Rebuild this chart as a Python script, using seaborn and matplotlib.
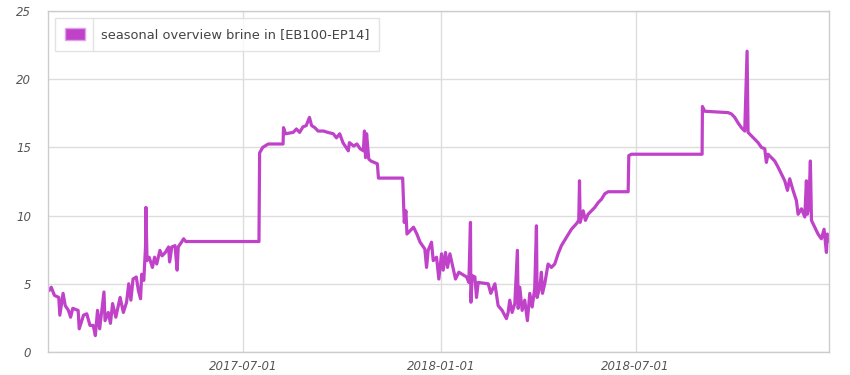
import matplotlib
matplotlib.use("Agg")
import matplotlib.pyplot as plt
import matplotlib.dates as mdates
from matplotlib.patches import Patch
from matplotlib.lines import Line2D
import pandas as pd
import seaborn as sns

# days since 2017-01-01 and brine-in temperatures, in three parts
days_a = [1, 3, 6, 10, 11, 14, 16, 19, 21, 23,
          28, 29, 33, 36, 39, 42, 44, 46, 48, 52,
          53, 56, 58, 60, 63, 67, 70, 73, 75, 77,
          79, 82, 84, 86, 87, 89, 90.6, 91, 92, 94,
          97, 99, 101, 104, 106, 109, 112, 113, 115, 118,
          120, 121, 124, 126, 128]
vals_a = [4.5, 4.75, 4.15, 4.0, 2.7, 4.3, 3.4, 3.05, 2.55, 3.2,
          3.05, 1.7, 2.7, 2.8, 1.95, 1.95, 1.2, 3.05, 1.7, 4.4,
          2.3, 2.9, 2.1, 3.55, 2.55, 4.0, 2.9, 3.65, 5.0, 3.8,
          5.35, 5.5, 4.5, 3.9, 5.7, 5.25, 7.7, 10.6, 6.7, 6.95,
          6.2, 6.95, 6.45, 7.45, 7.05, 7.3, 7.7, 6.6, 7.7, 7.8,
          6.0, 7.7, 8.05, 8.3, 8.1]

days_b = [196, 196.6, 199.5, 204.6, 218.4, 218.8, 220.7, 227.8, 230.8, 233.8,
          236.8, 239.9, 242.9, 244.9, 247.9, 250.9, 256, 260, 265, 268,
          271, 274, 279, 280, 284, 287, 290, 293, 294, 295,
          296, 298, 300, 303, 306, 307, 329.5, 330.5, 331, 332.5,
          333.5, 336.6, 339.6, 342.7, 345.7, 348.7]
vals_b = [8.1, 14.6, 15.0, 15.25, 15.25, 16.45, 16.0, 16.1, 16.35, 16.1,
          16.5, 16.6, 17.2, 16.6, 16.45, 16.2, 16.2, 16.1, 16.0, 15.7,
          16.0, 15.35, 14.75, 15.35, 15.1, 15.25, 14.9, 14.75, 16.2, 14.25,
          16.0, 14.15, 14.0, 13.9, 13.8, 12.75, 12.75, 10.6, 9.5, 10.35,
          8.65, 8.9, 9.15, 8.65, 8.05, 7.7]

days_c = [350.1, 351.7, 353.2, 356.3, 357.9, 361.0, 363.1, 365.6, 367.2, 369.3,
          371.2, 373.4, 375.5, 378.6, 381.7, 384.8, 388.9, 391.0, 392.5, 392.9,
          394.1, 396.6, 398.1, 399.7, 404.3, 409.0, 411.4, 415.2, 418.2, 421.9,
          425.9, 427.5, 429.0, 431.2, 433.7, 436.1, 436.8, 438.3, 440.5, 442.9,
          445.4, 447.6, 449.8, 452.2, 453.8, 454.4, 456.9, 458.4, 459.4, 461.5,
          464.6, 467.7, 470.8, 473.9, 477.0, 481.7, 486.3, 490.9, 493.1, 493.8,
          494.4, 497.2, 499.3, 501.8, 504.9, 508.0, 511.1, 514.2, 517.3, 520.4,
          539.0, 539.6, 542.1, 607.7, 608.0, 610.2, 631.9, 635.0, 638.0, 641.1,
          644.2, 647.3, 649.5, 650.4, 653.5, 656.6, 659.7, 662.8, 665.9, 667.4,
          669.0, 672.1, 675.2, 678.3, 681.4, 684.5, 687.0, 689.1, 692.2, 695.3,
          696.9, 700.0, 703.1, 704.6, 705.5, 706.8, 708.3, 709.3, 712.4, 715.4,
          718.5, 721.0, 723.2, 724.1, 725.4]
vals_c = [7.55, 6.2, 7.45, 8.05, 6.7, 6.95, 5.35, 7.2, 6.0, 7.3,
          6.2, 7.2, 6.45, 5.35, 5.85, 5.7, 5.5, 5.1, 9.5, 3.65,
          5.6, 5.5, 4.0, 5.1, 5.05, 5.0, 4.3, 5.0, 3.4, 3.05,
          2.45, 2.9, 3.8, 2.9, 3.55, 7.45, 3.2, 4.75, 3.05, 3.8,
          2.3, 4.3, 3.3, 4.65, 9.25, 4.0, 4.75, 5.85, 4.3, 5.0,
          6.45, 6.2, 6.45, 7.2, 7.8, 8.4, 9.0, 9.4, 9.65, 12.55,
          9.5, 10.35, 9.65, 10.1, 10.35, 10.6, 10.95, 11.2, 11.6, 11.75,
          11.75, 14.4, 14.5, 14.5, 18.0, 17.65, 17.55, 17.45, 17.2, 16.8,
          16.45, 16.2, 22.05, 16.1, 15.85, 15.6, 15.35, 15.0, 14.9, 13.9,
          14.5, 14.25, 14.0, 13.55, 13.05, 12.55, 11.85, 12.7, 11.85, 11.1,
          10.1, 10.5, 9.9, 12.55, 10.1, 10.6, 14.0, 9.65, 9.15, 8.65,
          8.3, 9.0, 7.3, 8.65, 8.15]

series_label = "seasonal overview brine in [EB100-EP14]"
x_ticks = ["2017-07-01", "2018-01-01", "2018-07-01"]
y_ticks = [0, 5, 10, 15, 20, 25]

start = pd.Timestamp("2017-01-01")
day_offsets = days_a + days_b + days_c
brine_in = vals_a + vals_b + vals_c
df = pd.DataFrame({
    "time": [start + pd.Timedelta(days=float(d)) for d in day_offsets],
    "value": brine_in,
})

sns.set_style("white")
plt.rcParams["font.family"] = ["DejaVu Sans"]

line_color = "#bf42c9"
fig = plt.figure(figsize=(8.5, 3.75), dpi=100)
ax = fig.add_axes([48 / 850, 23 / 375, 781 / 850, 341 / 375])

sns.lineplot(data=df, x="time", y="value", ax=ax, color=line_color,
             linewidth=2.3, estimator=None, sort=False)

ax.set_xlim(start, start + pd.Timedelta(days=725.6))
ax.set_ylim(0, 25)
ax.set_yticks(y_ticks)
ax.set_xticks([pd.Timestamp(t) for t in x_ticks])
ax.xaxis.set_major_formatter(mdates.DateFormatter("%Y-%m-%d"))
ax.set_xlabel("")
ax.set_ylabel("")

for lbl in ax.get_xticklabels() + ax.get_yticklabels():
    lbl.set_fontstyle("italic")
    lbl.set_color("#555555")
    lbl.set_fontsize(8.5)
ax.tick_params(axis="x", length=0, pad=6)
ax.tick_params(axis="y", length=0, pad=12)

ax.grid(True, color="#dddddd", linewidth=1)
ax.set_axisbelow(True)
for sp in ax.spines.values():
    sp.set_visible(True)
    sp.set_color("#cccccc")
    sp.set_linewidth(1)

handle = Patch(facecolor=line_color, edgecolor="#e0a0ea", linewidth=1)
leg = ax.legend([handle], [series_label], loc="upper left",
                bbox_to_anchor=(0.009, 0.979), frameon=True, fancybox=False,
                edgecolor="#dddddd", fontsize=9.4, handlelength=1.55,
                handleheight=1.05, handletextpad=1.2, borderpad=0.75,
                borderaxespad=0)
leg.get_frame().set_linewidth(1)
for t in leg.get_texts():
    t.set_color("#444444")

# thin separator between legend swatch and text, as in the reference widget
fig.canvas.draw()
r = fig.canvas.get_renderer()
lb = leg.get_frame().get_window_extent(r)
hb = leg.legend_handles[0].get_window_extent(r)
tb = leg.get_texts()[0].get_window_extent(r)
sx = (hb.x1 + tb.x0) / 2 / fig.bbox.width
fig.add_artist(Line2D([sx, sx], [lb.y0 / fig.bbox.height, lb.y1 / fig.bbox.height],
                      color="#e4e4e4", linewidth=1))

fig.savefig("out.png", dpi=100)
